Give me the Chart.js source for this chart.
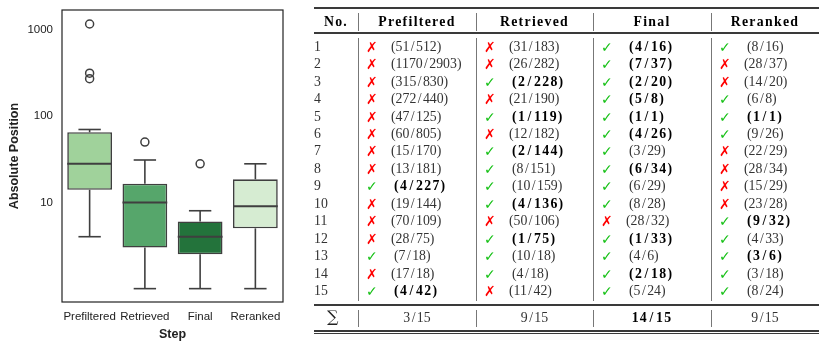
<!DOCTYPE html>
<html>
<head>
<meta charset="utf-8">
<script src="https://cdn.jsdelivr.net/npm/chart.js@4.4.1/dist/chart.umd.min.js"></script>
<style>
  body { margin: 0; width: 830px; height: 351px; background: #fff; position: relative; overflow: hidden; }
  #grafica { position: absolute; left: 0; top: 0; }
  #tabla { position: absolute; left: 0; top: 0; width: 830px; height: 351px; font-family: "Liberation Serif", serif; font-size: 13.8px; color: #333; }
  #tabla div { position: absolute; white-space: nowrap; }
  .celda { height: 18px; line-height: 18px; }
  .neg { font-weight: bold; color: #000; letter-spacing: 1.3px; }
  .sl { margin: 0 1.4px; }
  .marca { font-family: "DejaVu Sans", sans-serif; font-size: 14px; font-weight: bold; }
  .ok { color: #17c117; }
  .mal { color: #f00; }
  .regla { background: #3a3a3a; }
  .vlin { background: #777; width: 1px; }
</style>
</head>
<body>
<canvas id="grafica" width="300" height="351"></canvas>
<div id="tabla"></div>
<script>
const pasos = ["Prefiltered", "Retrieved", "Final", "Reranked"];
const prefPos = [51, 1170, 315, 272, 47, 60, 15, 13, 4, 19, 70, 28, 7, 17, 4];
const prefTotal = [512, 2903, 830, 440, 125, 805, 170, 181, 227, 144, 109, 75, 18, 18, 42];
const retrPos = [31, 26, 2, 21, 1, 12, 2, 8, 10, 4, 50, 1, 10, 4, 11];
const retrTotal = [183, 282, 228, 190, 119, 182, 144, 151, 159, 136, 106, 75, 18, 18, 42];
const finalPos = [4, 7, 2, 5, 1, 4, 3, 6, 6, 8, 28, 1, 4, 2, 5];
const finalTotal = [16, 37, 20, 8, 1, 26, 29, 34, 29, 28, 32, 33, 6, 18, 24];
const rerankPos = [8, 28, 14, 6, 1, 9, 22, 28, 15, 23, 9, 4, 3, 3, 8];
const rerankTotal = [16, 37, 20, 8, 1, 26, 29, 34, 29, 28, 32, 33, 6, 18, 24];
const aciertoMax = 10; // ✓ si la posición es <= 10
const yTicks = [10, 100, 1000];

const posiciones = [prefPos, retrPos, finalPos, rerankPos];
const totales = [prefTotal, retrTotal, finalTotal, rerankTotal];
const coloresCaja = ["#a0d29b", "#56a66b", "#23733b", "#d6ecd2"];
const colorLinea = "#3f3f3f";

function cuantil(orden, p) {
  const pos = (orden.length - 1) * p;
  const lo = Math.floor(pos), hi = Math.ceil(pos);
  return orden[lo] + (orden[hi] - orden[lo]) * (pos - lo);
}

function estadisticas(valores) {
  const orden = [...valores].sort((a, b) => a - b);
  const q1 = cuantil(orden, 0.25), med = cuantil(orden, 0.5), q3 = cuantil(orden, 0.75);
  const iqr = q3 - q1;
  const dentro = orden.filter(v => v >= q1 - 1.5 * iqr && v <= q3 + 1.5 * iqr);
  return {
    q1, med, q3,
    bajo: dentro[0], alto: dentro[dentro.length - 1],
    fuera: orden.filter(v => v < q1 - 1.5 * iqr || v > q3 + 1.5 * iqr)
  };
}

const stats = posiciones.map(estadisticas);
const atipicos = [];
stats.forEach((s, i) => s.fuera.forEach(v => atipicos.push({ x: pasos[i], y: v })));

const cajasPlugin = {
  id: "cajas",
  afterDatasetsDraw(chart) {
    const { ctx, scales: { y } } = chart;
    const meta = chart.getDatasetMeta(0);
    ctx.save();
    ctx.strokeStyle = colorLinea;
    ctx.lineWidth = 1.6;
    const linea = (x1, y1, x2, y2) => { ctx.beginPath(); ctx.moveTo(x1, y1); ctx.lineTo(x2, y2); ctx.stroke(); };
    stats.forEach((s, i) => {
      const barra = meta.data[i];
      const cx = barra.x, mitad = barra.width / 2, tapa = mitad / 2;
      const yq1 = y.getPixelForValue(s.q1), yq3 = y.getPixelForValue(s.q3);
      const yAlto = y.getPixelForValue(s.alto), yBajo = y.getPixelForValue(s.bajo);
      linea(cx, yq3, cx, yAlto);
      linea(cx - tapa, yAlto, cx + tapa, yAlto);
      linea(cx, yq1, cx, yBajo);
      linea(cx - tapa, yBajo, cx + tapa, yBajo);
      ctx.lineWidth = 2;
      const ym = y.getPixelForValue(s.med);
      linea(cx - mitad, ym, cx + mitad, ym);
      ctx.lineWidth = 1.6;
    });
    const a = chart.chartArea;
    ctx.strokeStyle = "#222";
    ctx.lineWidth = 1.2;
    ctx.strokeRect(a.left, a.top, a.right - a.left, a.bottom - a.top);
    ctx.restore();
  }
};

const fuenteEje = { family: "'Liberation Sans', Arial, sans-serif", size: 11.5 };
const fuenteTitulo = { family: "'Liberation Sans', Arial, sans-serif", size: 12.5, weight: "bold" };

new Chart(document.getElementById("grafica").getContext("2d"), {
  type: "bar",
  data: {
    labels: pasos,
    datasets: [
      {
        data: stats.map(s => [s.q1, s.q3]),
        backgroundColor: coloresCaja,
        borderColor: colorLinea,
        borderWidth: 1.6,
        borderSkipped: false,
        barPercentage: 0.81,
        categoryPercentage: 1
      },
      {
        type: "line",
        data: atipicos,
        showLine: false,
        pointRadius: 4,
        pointBorderWidth: 1.5,
        pointBorderColor: colorLinea,
        pointBackgroundColor: "rgba(0,0,0,0)"
      }
    ]
  },
  options: {
    responsive: false,
    animation: false,
    layout: { padding: { left: 0, right: 17, top: 10, bottom: 0 } },
    plugins: { legend: { display: false }, tooltip: { enabled: false } },
    scales: {
      x: {
        grid: { display: false, drawTicks: false },
        border: { display: false },
        ticks: { font: fuenteEje, color: "#222", padding: 8, maxRotation: 0, autoSkip: false },
        title: { display: true, text: "Step", font: fuenteTitulo, color: "#222", padding: { top: 0, bottom: 9 } },
        afterFit(s) { s.height = 49; s.paddingLeft = 0; s.paddingRight = 0; }
      },
      y: {
        type: "logarithmic",
        min: 0.72,
        max: 1700,
        grid: { display: false, drawTicks: false },
        border: { display: false },
        afterBuildTicks(s) { s.ticks = yTicks.map(v => ({ value: v })); },
        ticks: { font: fuenteEje, color: "#222", padding: 9, callback: v => String(v) },
        title: { display: true, text: "Absolute Position", font: fuenteTitulo, color: "#222", padding: { top: 7.5, bottom: 0 } },
        afterFit(s) { s.width = 62; s.paddingTop = 0; s.paddingBottom = 0; }
      }
    }
  },
  plugins: [cajasPlugin]
});

// ---- Tabla ----
const tabla = document.getElementById("tabla");
const bordes = [314, 358, 476, 593, 711, 819];

function div(cls, estilo, html) {
  const d = document.createElement("div");
  d.className = cls;
  Object.assign(d.style, estilo);
  d.innerHTML = html || "";
  tabla.appendChild(d);
  return d;
}

function fraccion(a, b) {
  return a + '<span class="sl">/</span>' + b;
}

function centrado(col, yc, html, cls) {
  div("celda " + (cls || ""), {
    left: bordes[col] + "px", width: (bordes[col + 1] - bordes[col]) + "px",
    top: (yc - 9) + "px", textAlign: "center"
  }, html);
}

// reglas horizontales
const reglas = [[7.3, 1.7], [32.4, 1.5], [304.2, 1.4], [330.2, 1.4], [333, 1.4]];
reglas.forEach(([y, h]) => div("regla", { left: bordes[0] + "px", width: (bordes[5] - bordes[0]) + "px", top: y + "px", height: h + "px" }));

// reglas verticales
[[13.3, 30.7], [38.3, 300.7], [310, 326.7]].forEach(([a, b]) => {
  for (let c = 1; c < 5; c++) div("vlin", { left: bordes[c] + "px", top: a + "px", height: (b - a) + "px" });
});

// encabezado
const yCab = 21.5;
centrado(0, yCab, "No.", "neg");
pasos.forEach((p, i) => centrado(i + 1, yCab, p, "neg"));

// filas
for (let r = 0; r < prefPos.length; r++) {
  const yc = 46.7 + r * 17.46;
  div("celda", { left: bordes[0] + "px", top: (yc - 9) + "px" }, String(r + 1));
  const minimo = Math.min(...posiciones.map(p => p[r]));
  posiciones.forEach((pos, c) => {
    const bien = pos[r] <= aciertoMax;
    const x0 = bordes[c + 1] + 8;
    div("celda marca " + (bien ? "ok" : "mal"), { left: x0 + "px", top: (yc - 9) + "px" }, bien ? "✓" : "✗");
    div("celda " + (pos[r] === minimo ? "neg" : ""), { left: (x0 + (bien ? 28 : 25)) + "px", top: (yc - 9) + "px" },
      "(" + fraccion(pos[r], totales[c][r]) + ")");
  });
}

// fila de suma
const ySuma = 317.5;
div("celda", { left: (bordes[0] + 13) + "px", top: (ySuma - 10) + "px", fontFamily: "'DejaVu Serif', serif", fontSize: "16px", color: "#222" }, "∑");
const aciertos = posiciones.map(p => p.filter(v => v <= aciertoMax).length);
const mejor = Math.max(...aciertos);
aciertos.forEach((n, c) => centrado(c + 1, ySuma, fraccion(n, prefPos.length), n === mejor ? "neg" : ""));
</script>
</body>
</html>
